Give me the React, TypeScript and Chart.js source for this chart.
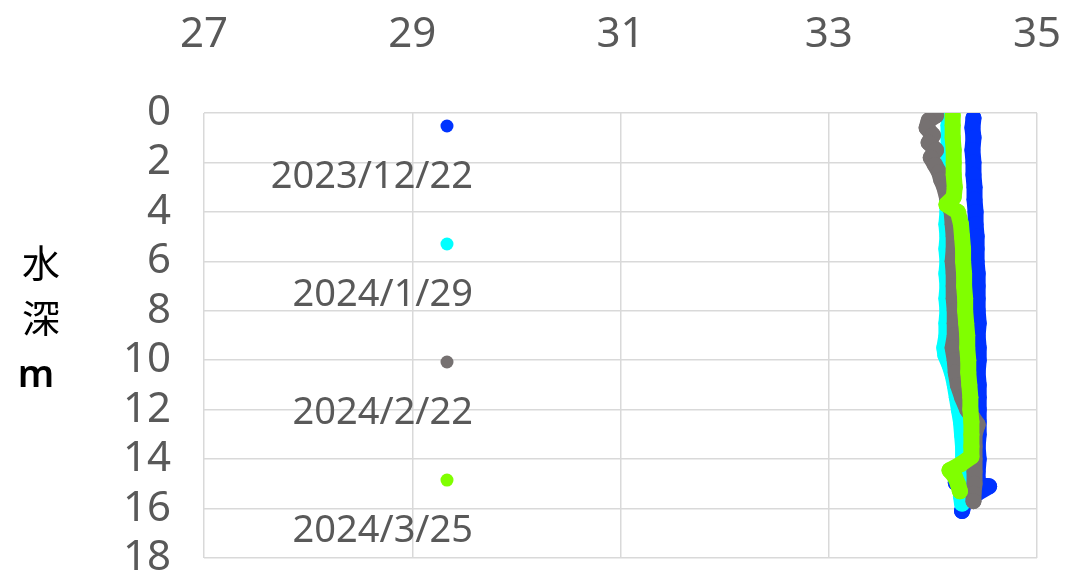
import React, { useEffect, useRef } from 'react';
import { Chart, registerables } from 'chart.js';

Chart.register(...registerables);

// ---- Data (temperature °C vs depth m) ----
const seriesLabels = ['2023/12/22', '2024/1/29', '2024/2/22', '2024/3/25'];
const seriesColors = ['#0033ff', '#00ffff', '#767171', '#80ff00'];

const depth1222 = [0.2, 0.6, 1.0, 1.5, 2.0, 2.5, 3.0, 3.5, 4.0, 4.5, 5.0, 5.5, 6.0, 6.5, 7.0, 7.5, 8.0, 8.5, 9.0, 9.5, 10.0, 10.5, 11.0, 11.5, 12.0, 12.5, 13.0, 13.5, 14.0, 14.5, 14.8, 14.95, 15.1, 15.4, 15.8, 16.1];
const temp1222 = [34.39, 34.38, 34.39, 34.38, 34.39, 34.39, 34.40, 34.40, 34.41, 34.41, 34.42, 34.42, 34.42, 34.43, 34.43, 34.43, 34.43, 34.44, 34.43, 34.44, 34.44, 34.43, 34.44, 34.44, 34.44, 34.44, 34.44, 34.43, 34.44, 34.43, 34.43, 34.22, 34.54, 34.42, 34.30, 34.28];

const depth0129 = [0.1, 0.5, 1.0, 1.5, 2.0, 2.5, 3.0, 3.5, 4.0, 4.5, 5.0, 5.5, 6.0, 6.5, 7.0, 7.5, 8.0, 8.5, 9.0, 9.5, 9.8, 10.2, 10.6, 11.0, 11.5, 12.0, 12.5, 13.0, 13.5, 14.0, 14.5, 15.0, 15.5, 15.8];
const temp0129 = [34.16, 34.15, 34.15, 34.15, 34.15, 34.14, 34.14, 34.14, 34.14, 34.13, 34.14, 34.13, 34.14, 34.13, 34.14, 34.13, 34.14, 34.13, 34.13, 34.11, 34.12, 34.16, 34.19, 34.21, 34.23, 34.25, 34.27, 34.28, 34.29, 34.29, 34.30, 34.28, 34.27, 34.28];

const depth0222 = [0.1, 0.3, 0.6, 0.9, 1.2, 1.5, 1.8, 2.1, 2.4, 2.7, 3.0, 3.5, 4.0, 4.5, 5.0, 5.5, 6.0, 6.5, 7.0, 7.5, 8.0, 8.5, 9.0, 9.5, 10.0, 10.5, 11.0, 11.5, 12.0, 12.3, 12.6, 13.0, 13.5, 14.0, 14.5, 15.0, 15.4, 15.7];
const temp0222 = [34.03, 33.96, 33.94, 34.00, 33.96, 34.03, 33.98, 34.02, 34.06, 34.08, 34.11, 34.14, 34.18, 34.19, 34.20, 34.20, 34.19, 34.20, 34.20, 34.20, 34.21, 34.21, 34.21, 34.19, 34.21, 34.22, 34.24, 34.28, 34.33, 34.38, 34.43, 34.40, 34.40, 34.40, 34.40, 34.40, 34.39, 34.39];

const depth0325 = [0.1, 0.5, 1.0, 1.5, 2.0, 2.5, 3.0, 3.4, 3.7, 4.0, 4.5, 5.0, 5.5, 6.0, 6.5, 7.0, 7.5, 8.0, 8.5, 9.0, 9.5, 10.0, 10.5, 11.0, 11.5, 12.0, 12.5, 13.0, 13.5, 13.9, 14.2, 14.45, 14.7, 15.0, 15.3];
const temp0325 = [34.19, 34.19, 34.19, 34.20, 34.20, 34.20, 34.21, 34.20, 34.13, 34.24, 34.27, 34.28, 34.29, 34.29, 34.30, 34.30, 34.31, 34.31, 34.32, 34.33, 34.33, 34.34, 34.34, 34.35, 34.36, 34.36, 34.37, 34.37, 34.37, 34.37, 34.27, 34.16, 34.21, 34.24, 34.26];

const depthSets = [depth1222, depth0129, depth0222, depth0325];
const tempSets = [temp1222, temp0129, temp0222, temp0325];

const xTicks = [27, 29, 31, 33, 35];
const yTicks = [0, 2, 4, 6, 8, 10, 12, 14, 16, 18];
const yTitle = ['水', '深', 'm'];

const FONT = "'Noto Sans', 'Noto Sans CJK JP', sans-serif";

export default function App() {
  const ref = useRef<HTMLCanvasElement | null>(null);

  useEffect(() => {
    if (!ref.current) return;

    const legendPlugin = {
      id: 'inlineLegend',
      afterDatasetsDraw(chart: any) {
        const { ctx, chartArea } = chart;
        const w = chartArea.right - chartArea.left;
        const h = chartArea.bottom - chartArea.top;
        const mx = chartArea.left + w * 0.2917;
        const tx = chartArea.left + w * 0.3229;
        ctx.save();
        seriesLabels.forEach((lab, i) => {
          const my = chartArea.top + h * (0.0292 + i * 0.2652);
          ctx.beginPath();
          ctx.fillStyle = seriesColors[i];
          ctx.arc(mx, my, 6.5, 0, Math.PI * 2);
          ctx.fill();
          ctx.font = `38px ${FONT}`;
          ctx.fillStyle = '#595959';
          ctx.textAlign = 'right';
          ctx.textBaseline = 'middle';
          ctx.fillText(lab, tx, my + 51);
        });
        ctx.restore();
      },
    };

    const titlePlugin = {
      id: 'yTitleStack',
      afterDraw(chart: any) {
        const { ctx } = chart;
        ctx.save();
        ctx.fillStyle = '#000000';
        ctx.textAlign = 'center';
        ctx.textBaseline = 'middle';
        ctx.font = `38px 'Noto Sans CJK JP', sans-serif`;
        ctx.fillText(yTitle[0], 41, 263);
        ctx.fillText(yTitle[1], 41, 318);
        ctx.font = `600 38px 'Noto Sans', sans-serif`;
        ctx.fillText(yTitle[2], 36, 376);
        ctx.restore();
      },
    };

    const datasets = seriesLabels.map((label, i) => ({
      label,
      data: depthSets[i].map((d, k) => ({ x: tempSets[i][k], y: d })),
      showLine: true,
      borderColor: seriesColors[i],
      backgroundColor: seriesColors[i],
      borderWidth: 16,
      borderCapStyle: 'round' as const,
      borderJoinStyle: 'round' as const,
      pointRadius: 8,
      pointBorderWidth: 0,
      pointHoverRadius: 8,
      order: 4 - i,
    }));

    const chart = new Chart(ref.current, {
      type: 'scatter',
      data: { datasets },
      plugins: [legendPlugin, titlePlugin],
      options: {
        animation: false,
        responsive: false,
        maintainAspectRatio: false,
        layout: { padding: { left: 0, right: 31, top: 0, bottom: 27 } },
        plugins: {
          legend: { display: false },
          tooltip: { enabled: false },
          title: { display: false },
        },
        scales: {
          x: {
            type: 'linear',
            position: 'top',
            min: 27,
            max: 35,
            afterBuildTicks: (s: any) => {
              s.ticks = xTicks.map((v) => ({ value: v }));
            },
            afterFit: (s: any) => {
              s.height = 113;
              s.paddingLeft = 0;
              s.paddingRight = 0;
            },
            ticks: {
              color: '#595959',
              font: { size: 42, family: FONT },
              padding: 53,
              maxRotation: 0,
              autoSkip: false,
            },
            grid: { color: '#d9d9d9', lineWidth: 1.5, drawTicks: false },
            border: { display: false },
          },
          y: {
            type: 'linear',
            position: 'left',
            reverse: true,
            min: 0,
            max: 18,
            afterBuildTicks: (s: any) => {
              s.ticks = yTicks.map((v) => ({ value: v }));
            },
            afterFit: (s: any) => {
              s.width = 204;
              s.paddingTop = 0;
              s.paddingBottom = 0;
            },
            ticks: {
              color: '#595959',
              font: { size: 42, family: FONT },
              padding: 33,
              autoSkip: false,
            },
            grid: { color: '#d9d9d9', lineWidth: 1.5, drawTicks: false },
            border: { display: false },
          },
        },
      },
    });

    return () => chart.destroy();
  }, []);

  return (
    <div style={{ position: 'fixed', left: 0, top: 0, width: 1068, height: 585, background: '#ffffff' }}>
      <canvas ref={ref} width={1068} height={585} style={{ display: 'block', width: 1068, height: 585 }} />
    </div>
  );
}
